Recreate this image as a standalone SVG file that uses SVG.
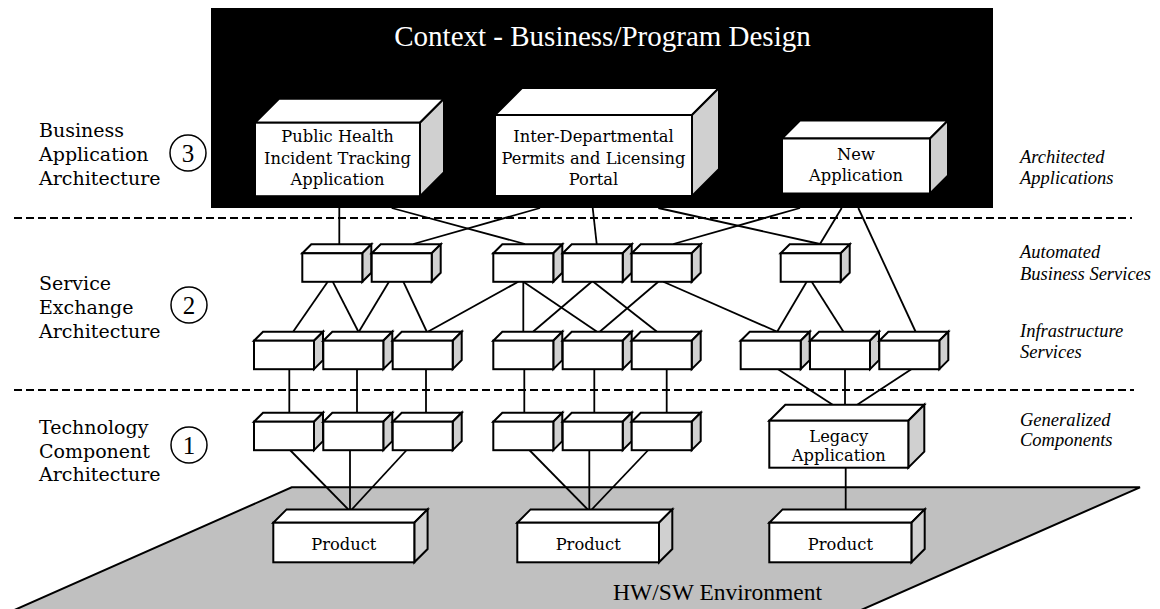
<svg xmlns="http://www.w3.org/2000/svg" width="1160" height="609" viewBox="0 0 1160 609">
  <style>
    .face { fill: #ffffff; stroke: #000; stroke-width: 2; stroke-linejoin: miter; }
    .side { fill: #d0d0d0; stroke: #000; stroke-width: 2; stroke-linejoin: miter; }
    .conn line { stroke: #000; stroke-width: 1.8; }
    .divider { stroke: #000; stroke-width: 2; stroke-dasharray: 8 4; }
    .lbl { font-family: 'DejaVu Serif', serif; font-size: 16.3px; text-anchor: middle; fill: #000; }
    .layer { font-family: 'DejaVu Serif', serif; font-size: 19px; fill: #000; }
    .times { font-family: 'Liberation Serif', serif; }
    .note { font-family: 'Liberation Serif', serif; font-style: italic; font-size: 18.5px; fill: #000; }
    .num { font-family: 'Liberation Serif', serif; font-size: 25px; text-anchor: middle; fill: #000; }
    .ring { fill: none; stroke: #000; stroke-width: 1.5; }
  </style>

  <!-- ground plane -->
  <g id="environment">
    <polygon points="291.7,487.3 1140,487.3 849.7,615 3.1,615" fill="#c0c0c0" stroke="#000" stroke-width="2"/>
    <text class="times" x="613" y="599.5" font-size="23.5" fill="#000">HW/SW Environment</text>
  </g>

  <!-- context band -->
  <g id="context">
    <rect x="211" y="8" width="782" height="200" fill="#000"/>
    <text class="times" x="602.5" y="46" font-size="29" fill="#fff" text-anchor="middle">Context - Business/Program Design</text>
  </g>

  <!-- layer dividers -->
  <line class="divider" x1="14" y1="218" x2="1132" y2="218"/>
  <line class="divider" x1="14" y1="390" x2="1134" y2="390"/>

  <!-- connectors -->
  <g id="connectors" class="conn">
    <!-- applications to business services -->
    <line x1="339.3" y1="208" x2="339.3" y2="244"/>
    <line x1="391.7" y1="208" x2="525" y2="244"/>
    <line x1="540" y1="208" x2="413.3" y2="244"/>
    <line x1="592.7" y1="208" x2="596.7" y2="244"/>
    <line x1="658.3" y1="208" x2="820" y2="244"/>
    <line x1="800" y1="208" x2="673.3" y2="244"/>
    <line x1="841.7" y1="208" x2="820" y2="244"/>
    <line x1="858.3" y1="208" x2="915.5" y2="331.5"/>
    <!-- business services to infrastructure services -->
    <line x1="327.7" y1="281.7" x2="293.3" y2="331.5"/>
    <line x1="332.7" y1="281.7" x2="358.3" y2="331.5"/>
    <line x1="389" y1="281.7" x2="359" y2="331.5"/>
    <line x1="403.3" y1="281.7" x2="426.7" y2="331.5"/>
    <line x1="518.3" y1="281.7" x2="428.3" y2="331.5"/>
    <line x1="523.3" y1="281.7" x2="523.3" y2="331.5"/>
    <line x1="523.3" y1="281.7" x2="596.7" y2="331.5"/>
    <line x1="591.7" y1="281.7" x2="533.3" y2="331.5"/>
    <line x1="593.3" y1="281.7" x2="656.7" y2="331.5"/>
    <line x1="658.3" y1="281.7" x2="600" y2="331.5"/>
    <line x1="663.3" y1="281.7" x2="776.7" y2="331.5"/>
    <line x1="806.7" y1="281.7" x2="777.3" y2="331.5"/>
    <line x1="811.7" y1="281.7" x2="843.3" y2="331.5"/>
    <!-- infrastructure services to components -->
    <line x1="289.3" y1="369" x2="289.3" y2="412.5"/>
    <line x1="357" y1="369" x2="357" y2="412.5"/>
    <line x1="426" y1="369" x2="426" y2="412.5"/>
    <line x1="524.3" y1="369" x2="524.3" y2="412.5"/>
    <line x1="594.3" y1="369" x2="594.3" y2="412.5"/>
    <line x1="666.7" y1="369" x2="666.7" y2="412.5"/>
    <line x1="777.7" y1="369" x2="845" y2="412.7"/>
    <line x1="845" y1="369" x2="845" y2="412.7"/>
    <line x1="911.7" y1="369" x2="845" y2="412.7"/>
    <!-- components to products -->
    <line x1="290" y1="450" x2="348.3" y2="509.5"/>
    <line x1="350" y1="450" x2="350" y2="509.5"/>
    <line x1="406.7" y1="450" x2="351.7" y2="509.5"/>
    <line x1="529.3" y1="450" x2="587.7" y2="509.5"/>
    <line x1="589.3" y1="450" x2="589.3" y2="509.5"/>
    <line x1="648.3" y1="450" x2="591.7" y2="509.5"/>
    <line x1="845.7" y1="467.7" x2="845.7" y2="509.5"/>
  </g>

  <!-- architected applications -->
  <g id="app-public-health">
    <path class="face" d="M255,122.7 L279,98.7 L444,98.7 L420,122.7 Z"/>
    <path class="side" d="M420,122.7 L444,98.7 L444,172.2 L420,196.2 Z"/>
    <rect class="face" x="255" y="122.7" width="165" height="73.5"/>
    <text class="lbl" x="337.5" y="141.7">Public Health</text>
    <text class="lbl" x="337.5" y="163.5">Incident Tracking</text>
    <text class="lbl" x="337.5" y="184.5">Application</text>
  </g>
  <g id="app-permits-portal">
    <path class="face" d="M495,115 L522,88 L719,88 L692,115 Z"/>
    <path class="side" d="M692,115 L719,88 L719,169 L692,196 Z"/>
    <rect class="face" x="495" y="115" width="197" height="81"/>
    <text class="lbl" x="593.5" y="141.7">Inter-Departmental</text>
    <text class="lbl" x="593.5" y="163.5">Permits and Licensing</text>
    <text class="lbl" x="593.5" y="184.5">Portal</text>
  </g>
  <g id="app-new">
    <path class="face" d="M782,138.5 L800,120.5 L948,120.5 L930,138.5 Z"/>
    <path class="side" d="M930,138.5 L948,120.5 L948,175.5 L930,193.5 Z"/>
    <rect class="face" x="782" y="138.5" width="148" height="55"/>
    <text class="lbl" x="856" y="159.5">New</text>
    <text class="lbl" x="856" y="180.5">Application</text>
  </g>

  <!-- reusable small block -->
  <defs>
    <g id="block">
      <path class="face" d="M0,0 L9,-9 L69,-9 L60,0 Z"/>
      <path class="side" d="M60,0 L69,-9 L69,19.5 L60,28.5 Z"/>
      <rect class="face" x="0" y="0" width="60" height="28.5"/>
    </g>
  </defs>

  <!-- automated business services -->
  <g id="business-services">
    <use id="bs1" href="#block" x="302.3" y="253.3"/>
    <use id="bs2" href="#block" x="371.7" y="253.3"/>
    <use id="bs3" href="#block" x="493.3" y="253.3"/>
    <use id="bs4" href="#block" x="562.7" y="253.3"/>
    <use id="bs5" href="#block" x="631.7" y="253.3"/>
    <use id="bs6" href="#block" x="780.7" y="253.3"/>
  </g>

  <!-- infrastructure services -->
  <g id="infrastructure-services">
    <use id="is1" href="#block" x="254" y="340.7"/>
    <use id="is2" href="#block" x="323.3" y="340.7"/>
    <use id="is3" href="#block" x="392.7" y="340.7"/>
    <use id="is4" href="#block" x="493.3" y="340.7"/>
    <use id="is5" href="#block" x="562.7" y="340.7"/>
    <use id="is6" href="#block" x="631.7" y="340.7"/>
    <use id="is7" href="#block" x="740.7" y="340.7"/>
    <use id="is8" href="#block" x="810" y="340.7"/>
    <use id="is9" href="#block" x="879.3" y="340.7"/>
  </g>

  <!-- generalized components -->
  <g id="components">
    <use id="gc1" href="#block" x="254" y="421.7"/>
    <use id="gc2" href="#block" x="323.3" y="421.7"/>
    <use id="gc3" href="#block" x="392.7" y="421.7"/>
    <use id="gc4" href="#block" x="493.3" y="421.7"/>
    <use id="gc5" href="#block" x="562.7" y="421.7"/>
    <use id="gc6" href="#block" x="631.7" y="421.7"/>
  </g>
  <g id="legacy-application">
    <path class="face" d="M769.3,420.7 L785.3,404.7 L924.3,404.7 L908.3,420.7 Z"/>
    <path class="side" d="M908.3,420.7 L924.3,404.7 L924.3,451.7 L908.3,467.7 Z"/>
    <rect class="face" x="769.3" y="420.7" width="139" height="47"/>
    <text class="lbl" x="838.8" y="441.5">Legacy</text>
    <text class="lbl" x="838.8" y="460.5">Application</text>
  </g>

  <!-- products -->
  <g id="product-1">
    <path class="face" d="M273.3,522.7 L286.6,509.4 L427.6,509.4 L414.3,522.7 Z"/>
    <path class="side" d="M414.3,522.7 L427.6,509.4 L427.6,549 L414.3,562.3 Z"/>
    <rect class="face" x="273.3" y="522.7" width="141" height="39.6"/>
    <text class="lbl" x="343.8" y="550" font-size="17.5">Product</text>
  </g>
  <g id="product-2">
    <path class="face" d="M517.3,522.7 L530.6,509.4 L672.3,509.4 L659,522.7 Z"/>
    <path class="side" d="M659,522.7 L672.3,509.4 L672.3,549 L659,562.3 Z"/>
    <rect class="face" x="517.3" y="522.7" width="141.7" height="39.6"/>
    <text class="lbl" x="588.2" y="550" font-size="17.5">Product</text>
  </g>
  <g id="product-3">
    <path class="face" d="M769.3,522.7 L782.6,509.4 L924.7,509.4 L911.4,522.7 Z"/>
    <path class="side" d="M911.4,522.7 L924.7,509.4 L924.7,549 L911.4,562.3 Z"/>
    <rect class="face" x="769.3" y="522.7" width="142.1" height="39.6"/>
    <text class="lbl" x="840.4" y="550" font-size="17.5">Product</text>
  </g>

  <!-- layer names -->
  <g id="layer-3">
    <text class="layer" x="39" y="136.5">Business</text>
    <text class="layer" x="39" y="160.5">Application</text>
    <text class="layer" x="39" y="184.5">Architecture</text>
    <circle class="ring" cx="188" cy="153" r="18"/>
    <text class="num" x="188" y="161.5">3</text>
  </g>
  <g id="layer-2">
    <text class="layer" x="39" y="290">Service</text>
    <text class="layer" x="39" y="314">Exchange</text>
    <text class="layer" x="39" y="337.5">Architecture</text>
    <circle class="ring" cx="189" cy="305" r="18"/>
    <text class="num" x="189" y="313.5">2</text>
  </g>
  <g id="layer-1">
    <text class="layer" x="39" y="433.5">Technology</text>
    <text class="layer" x="39" y="457.5">Component</text>
    <text class="layer" x="39" y="481">Architecture</text>
    <circle class="ring" cx="189" cy="445" r="18"/>
    <text class="num" x="189" y="453.5">1</text>
  </g>

  <!-- tier notes -->
  <g id="tier-notes">
    <text class="note" x="1020" y="163">Architected</text>
    <text class="note" x="1020" y="183.5">Applications</text>
    <text class="note" x="1020" y="257.5">Automated</text>
    <text class="note" x="1020" y="280">Business Services</text>
    <text class="note" x="1020" y="336.5">Infrastructure</text>
    <text class="note" x="1020" y="357.5">Services</text>
    <text class="note" x="1020" y="425.5">Generalized</text>
    <text class="note" x="1020" y="446">Components</text>
  </g>
</svg>
